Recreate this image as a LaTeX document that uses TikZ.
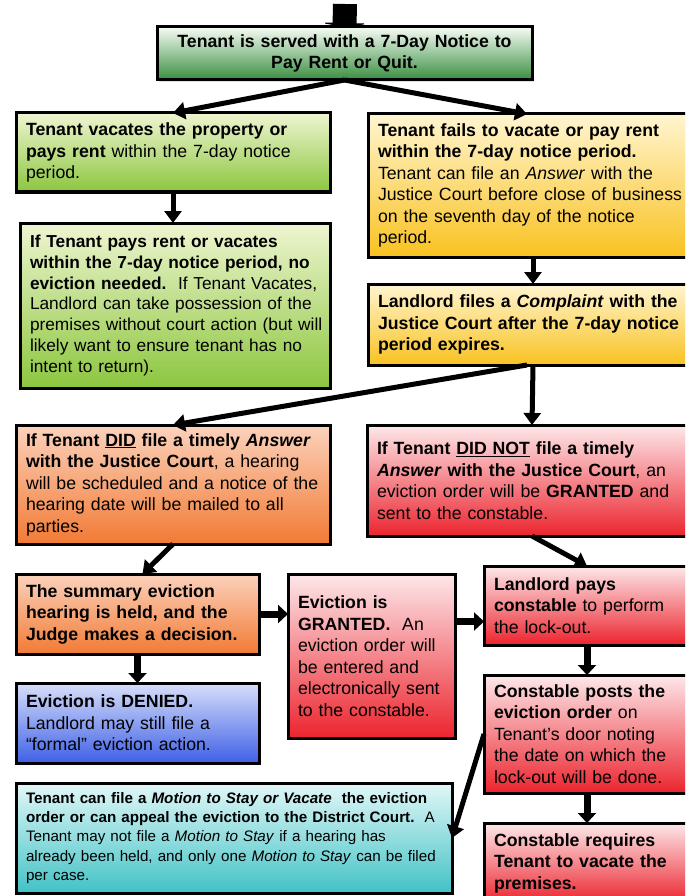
\documentclass[tikz,border=0pt]{standalone}
\usepackage{fontspec}
\setmainfont{Liberation Sans}
\usetikzlibrary{arrows.meta,calc,shadows}

\definecolor{noticetop}{RGB}{246,251,244}
\definecolor{noticebot}{RGB}{56,142,64}
\definecolor{limetop}{RGB}{238,245,208}
\definecolor{limebot}{RGB}{140,198,63}
\definecolor{goldtop}{RGB}{255,245,208}
\definecolor{goldbot}{RGB}{249,194,32}
\definecolor{amberetop}{RGB}{251,210,188}
\definecolor{amberbot}{RGB}{242,122,52}
\definecolor{rosetop}{RGB}{253,232,234}
\definecolor{rosebot}{RGB}{236,36,46}
\definecolor{skytop}{RGB}{216,223,250}
\definecolor{skybot}{RGB}{62,96,230}
\definecolor{tealtop}{RGB}{226,247,248}
\definecolor{tealbot}{RGB}{66,194,197}

\begin{document}
\begin{tikzpicture}[x=1pt,y=-1pt,
  stage/.style={draw=black, line width=3pt, anchor=north west, align=left,
    inner xsep=10pt, inner ysep=3pt, outer sep=0pt,
    font=\fontsize{17.7}{21.5}\selectfont,
    drop shadow={shadow xshift=2pt, shadow yshift=-2pt, opacity=0.25}},
  notice/.style={top color=noticetop, bottom color=noticebot},
  lime/.style={top color=limetop, bottom color=limebot},
  gold/.style={top color=goldtop, bottom color=goldbot},
  amber/.style={top color=amberetop, bottom color=amberbot},
  rose/.style={top color=rosetop, bottom color=rosebot},
  sky/.style={top color=skytop, bottom color=skybot},
  teal/.style={top color=tealtop, bottom color=tealbot},
  flow/.style={line width=5pt, -{Triangle[length=12pt,width=17pt]}},
  flowfat/.style={line width=7pt, -{Triangle[length=10pt,width=18pt]}}]
\useasboundingbox (0,0) rectangle (685,896);
\clip (0,0) rectangle (685,896);

\node[stage, notice, align=center, minimum width=375, minimum height=53, text width=355] at (157,27) (served)
  {\textbf{Tenant is served with a 7-Day Notice to}\\\textbf{Pay Rent or Quit.}};
\node[stage, lime, minimum width=314, minimum height=79, text width=294] at (16,113) (vacate)
  {\textbf{Tenant vacates the property or}\\\textbf{pays rent} within the 7-day notice\\period.};
\node[stage, lime, minimum width=310, minimum height=165, text width=290, font=\fontsize{17.3}{20.7}\selectfont] at (20,223) (nopay)
  {\textbf{If Tenant pays rent or vacates}\\\textbf{within the 7-day notice period, no}\\\mbox{\textbf{eviction needed.}\ \ If Tenant Vacates,}\\Landlord can take possession of the\\\mbox{premises without court action (but will}\\likely want to ensure tenant has no\\intent to return).};
\node[stage, gold, minimum width=330, minimum height=143, text width=310] at (368,114) (fails)
  {\textbf{Tenant fails to vacate or pay rent}\\\textbf{within the 7-day notice period.}\\Tenant can file an \textit{Answer} with the\\\mbox{Justice Court before close of business}\\on the seventh day of the notice\\period.};
\node[stage, gold, minimum width=330, minimum height=81, text width=310] at (368,284) (complaint)
  {\textbf{Landlord files a \textit{Complaint} with the}\\\textbf{Justice Court after the 7-day notice}\\\textbf{period expires.}};
\node[stage, amber, minimum width=314, minimum height=119, text width=294] at (16,425) (didans)
  {\mbox{\textbf{If Tenant \underline{DID} file a timely \textit{Answer}}}\\\textbf{with the Justice Court}, a hearing\\\mbox{will be scheduled and a notice of the}\\hearing date will be mailed to all\\parties.};
\node[stage, rose, minimum width=330, minimum height=111, text width=310] at (367,425) (notans)
  {\textbf{If Tenant \underline{DID NOT} file a timely}\\\textbf{\textit{Answer} with the Justice Court}, an\\eviction order will be \textbf{GRANTED} and\\sent to the constable.};
\node[stage, amber, minimum width=243, minimum height=80, text width=223] at (16,574) (hearing)
  {\textbf{The summary eviction}\\\textbf{hearing is held, and the}\\\textbf{Judge makes a decision.}};
\node[stage, rose, minimum width=167, minimum height=164, text width=147] at (288,574) (granted)
  {\textbf{Eviction is}\\\textbf{GRANTED.}\ \ An\\eviction order will\\be entered and\\\mbox{electronically sent}\\to the constable.};
\node[stage, rose, minimum width=206, minimum height=79, text width=186] at (484,566) (pays)
  {\textbf{Landlord pays}\\\textbf{constable} to perform\\the lock-out.};
\node[stage, sky, minimum width=243, minimum height=80, text width=223] at (16,683) (denied)
  {\textbf{Eviction is DENIED.}\\Landlord may still file a\\“formal” eviction action.};
\node[stage, rose, minimum width=206, minimum height=118, text width=186] at (484,675) (posts)
  {\textbf{Constable posts the}\\\textbf{eviction order} on\\Tenant’s door noting\\the date on which the\\lock-out will be done.};
\node[stage, teal, minimum width=436, minimum height=110, text width=416, font=\fontsize{15.2}{19.4}\selectfont] at (16,783) (motion)
  {\textbf{Tenant can file a \textit{Motion to Stay or Vacate}\ \ the eviction}\\\mbox{\textbf{order or can appeal the eviction to the District Court.}\ \ A}\\Tenant may not file a \textit{Motion to Stay} if a hearing has\\\mbox{already been held, and only one \textit{Motion to Stay} can be filed}\\per case.};
\node[stage, rose, minimum width=206, minimum height=80, text width=186] at (484,823) (requires)
  {\textbf{Constable requires}\\\textbf{Tenant to vacate the}\\\textbf{premises.}};

\coordinate (entry) at (345,4);
\coordinate (payin) at ($(pays.west)+(0,16)$);

\draw[line width=24pt, -{Triangle[length=4pt,width=52pt]}] (entry) -- (served.north);
\draw[flow] (served.south) -- (vacate.north);
\draw[flow] (served.south) -- ([xshift=-6pt]fails.north);
\draw[flow] (vacate.south) -- (vacate.south |- nopay.north);
\draw[flow] (fails.south) -- (complaint.north);
\draw[flow] ([xshift=-6pt]complaint.south) -- (didans.north);
\draw[flow] (complaint.south) -- (notans.north);
\draw[flow] (didans.south) -- ([xshift=5pt]hearing.north);
\draw[flow] (notans.south) -- (pays.north);
\draw[flowfat] (hearing.east) -- (hearing.east -| granted.west);
\draw[flowfat] (granted.east |- payin) -- (payin);
\draw[flowfat] (hearing.south) -- (denied.north);
\draw[flowfat] (pays.south) -- (posts.north);
\draw[flow] (posts.west) -- (motion.east);
\draw[flowfat] (posts.south) -- (requires.north);
\end{tikzpicture}
\end{document}
